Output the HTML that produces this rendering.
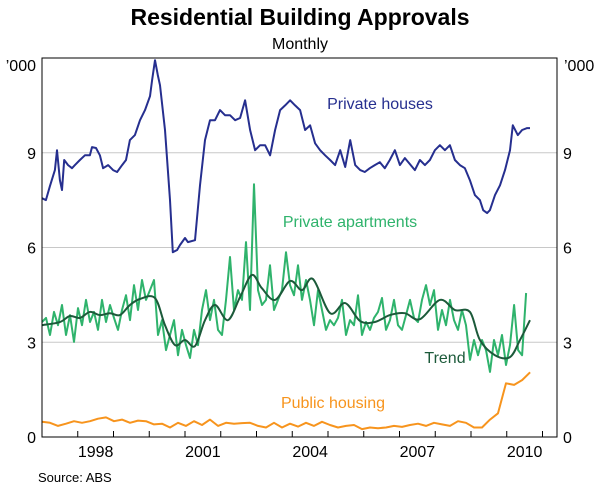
<!DOCTYPE html>
<html><head><meta charset="utf-8"><style>
body{margin:0;background:#fff;}
svg{font-family:"Liberation Sans",Arial,sans-serif;}
</style></head><body>
<svg id="chart" width="600" height="489" viewBox="0 0 600 489">
<text x="300" y="25" text-anchor="middle" font-size="23" font-weight="bold">Residential Building Approvals</text>
<text x="300" y="49" text-anchor="middle" font-size="16">Monthly</text>
<text x="36" y="71" text-anchor="end" font-size="16">’000</text>
<text x="564" y="71" font-size="16">’000</text>
<g id="grid"></g><g id="series"></g><g id="axes"></g>
<text x="380" y="109" text-anchor="middle" font-size="16" fill="#262f8f">Private houses</text>
<text x="350" y="227" text-anchor="middle" font-size="16" fill="#2fb36c">Private apartments</text>
<text x="445" y="363" text-anchor="middle" font-size="16" fill="#1c5a3a">Trend</text>
<text x="333" y="408" text-anchor="middle" font-size="16" fill="#f7941d">Public housing</text>
<text x="38" y="482" font-size="13">Source: ABS</text>
</svg>
<script>
const yTicks=[0,3,6,9];
const xTickLabels=[1998,2001,2004,2007,2010];
const housesT=[0,.11,.22,.36,.42,.5,.56,.62,.73,.84,.92,1.06,1.2,1.34,1.4,1.51,1.62,1.71,1.85,1.99,2.1,2.24,2.35,2.46,2.6,2.74,2.88,3.02,3.08,3.16,3.24,3.3,3.44,3.58,3.66,3.78,3.86,4.0,4.08,4.28,4.42,4.56,4.7,4.84,4.98,5.12,5.26,5.4,5.54,5.68,5.82,5.96,6.1,6.24,6.38,6.52,6.66,6.8,6.94,7.08,7.22,7.36,7.5,7.64,7.78,7.92,8.06,8.2,8.34,8.48,8.62,8.76,8.9,9.03,9.17,9.31,9.45,9.59,9.73,9.87,10.01,10.15,10.29,10.43,10.57,10.71,10.85,10.99,11.13,11.27,11.41,11.55,11.69,11.83,11.97,12.11,12.25,12.34,12.45,12.53,12.67,12.81,12.95,13.09,13.17,13.31,13.43,13.57,13.65];
const housesV=[7.56,7.5,7.94,8.45,9.08,8.13,7.82,8.77,8.61,8.51,8.61,8.77,8.92,8.92,9.18,9.15,8.92,8.51,8.61,8.45,8.39,8.61,8.77,9.4,9.56,10.03,10.35,10.79,11.3,11.93,11.46,11.14,9.72,7.5,5.85,5.92,6.08,6.3,6.17,6.23,7.97,9.4,10.03,10.03,10.35,10.19,10.19,10.03,10.1,10.66,9.72,9.08,9.24,9.24,8.92,9.72,10.35,10.5,10.66,10.5,10.35,9.72,9.87,9.3,9.08,8.92,8.77,8.61,9.08,8.55,9.4,8.61,8.45,8.39,8.51,8.61,8.7,8.51,8.77,9.08,8.61,8.83,8.64,8.45,8.77,8.61,8.77,9.08,9.24,9.08,9.24,8.77,8.61,8.51,8.13,7.66,7.5,7.18,7.09,7.18,7.66,7.97,8.45,9.08,9.87,9.56,9.72,9.78,9.78];
const aptStart=0, aptStep=0.1119;
const apartmentsV=[3.64,3.77,3.23,3.96,3.54,4.18,3.23,3.86,3.01,4.08,3.54,4.34,3.64,3.96,3.39,4.34,3.64,4.18,3.77,3.39,4.02,4.49,3.70,4.81,4.02,4.97,4.34,4.65,4.97,3.23,3.70,2.75,3.23,3.70,2.59,3.39,2.91,2.50,3.39,2.91,4.02,4.65,3.70,4.34,3.39,3.23,4.34,5.70,4.02,4.65,4.34,6.17,4.02,8.0,4.65,4.18,4.34,5.44,4.02,4.34,4.65,5.85,4.81,4.49,5.44,4.34,4.97,4.34,3.54,4.65,4.02,3.39,3.70,3.54,3.77,4.34,3.23,3.70,3.54,4.49,3.23,3.64,3.39,3.77,3.96,4.40,3.39,3.70,4.34,3.54,3.39,3.86,4.34,3.77,3.64,4.34,4.81,4.18,4.65,3.39,4.02,3.54,4.34,3.70,3.39,4.02,3.54,2.44,3.07,2.59,3.07,2.75,2.06,3.07,2.59,3.23,2.28,2.91,4.18,2.75,2.59,4.56];
const trendT=[0,.5,.78,1.06,1.34,1.62,1.9,2.18,2.46,2.74,3.16,3.44,3.72,4.0,4.28,4.56,4.84,5.2,5.54,5.87,6.15,6.52,6.94,7.27,7.58,8.06,8.48,8.9,9.31,9.73,10.15,10.57,11.13,11.55,11.97,12.25,12.67,13.09,13.37,13.65];
const trendV=[3.54,3.64,3.83,3.77,3.96,3.86,3.92,3.86,4.18,4.37,4.40,3.54,2.91,3.07,2.88,3.70,4.18,3.70,4.43,5.13,4.71,4.34,4.94,4.65,5.0,3.92,4.24,3.67,3.64,3.86,3.92,3.73,4.34,4.02,3.96,3.07,2.59,2.53,3.07,3.70];
const pubStart=0, pubStep=0.2238;
const publicV=[0.48,0.45,0.35,0.42,0.5,0.45,0.5,0.58,0.62,0.5,0.55,0.45,0.52,0.5,0.4,0.42,0.3,0.45,0.35,0.5,0.38,0.55,0.35,0.45,0.42,0.44,0.45,0.35,0.3,0.45,0.3,0.42,0.33,0.45,0.35,0.48,0.38,0.3,0.35,0.38,0.25,0.3,0.28,0.3,0.35,0.32,0.38,0.42,0.35,0.45,0.4,0.35,0.5,0.45,0.3,0.3,0.55,0.75,1.7,1.65,1.8,2.05];

const L=42,R=557,T=58,B=437,baseYear=1997,pxYear=35.75;
const x=t=>L+t*pxYear;
const y=v=>B-(v/12)*(B-T);
const NS='http://www.w3.org/2000/svg';
function mk(tag,attrs,parent){const e=document.createElementNS(NS,tag);for(const k in attrs)e.setAttribute(k,attrs[k]);parent.appendChild(e);return e;}
const grid=document.getElementById('grid'),ser=document.getElementById('series'),axes=document.getElementById('axes');
yTicks.forEach(v=>{
  if(v>0){const g=mk('line',{x1:L,x2:R,y1:y(v),y2:y(v),stroke:'#c8c8c8','stroke-width':1},grid);
  
  }
  const a=mk('text',{x:L-6,y:y(v)+6,'text-anchor':'end','font-size':16},axes);a.textContent=v;
  
  
  const b=mk('text',{x:R+6,y:y(v)+6,'font-size':16},axes);b.textContent=v;
  
  
});
for(let yr=1998;yr<=2011;yr++){
  const t=mk('line',{x1:x(yr-baseYear),x2:x(yr-baseYear),y1:B,y2:B-6,stroke:'#000','stroke-width':1},axes);
  
  
}
xTickLabels.forEach(yr=>{
  const e=mk('text',{x:x(yr-baseYear+0.5),y:B+20,'text-anchor':'middle','font-size':16},axes);e.textContent=yr;
  
  
});
const fr=mk('rect',{x:L,y:T,width:R-L,height:B-T,fill:'none',stroke:'#000','stroke-width':1},axes);


function line(ts,vs,color,w,name){
  const d=ts.map((t,i)=>(i?'L':'M')+x(t).toFixed(1)+','+y(vs[i]).toFixed(1)).join('');
  const p=mk('path',{d:d,fill:'none',stroke:color,'stroke-width':w,'stroke-linejoin':'round'},ser);
  
  
}
function smooth(ts,vs,color,w,name){
  const P=ts.map((t,i)=>[x(t),y(vs[i])]);let d='M'+P[0][0]+','+P[0][1];
  for(let i=0;i<P.length-1;i++){const p0=P[Math.max(0,i-1)],p1=P[i],p2=P[i+1],p3=P[Math.min(P.length-1,i+2)];
    d+='C'+(p1[0]+(p2[0]-p0[0])/6)+','+(p1[1]+(p2[1]-p0[1])/6)+' '+(p2[0]-(p3[0]-p1[0])/6)+','+(p2[1]-(p3[1]-p1[1])/6)+' '+p2[0]+','+p2[1];}
  const p=mk('path',{d:d,fill:'none',stroke:color,'stroke-width':w},ser);
  
  
}
line(publicV.map((v,i)=>pubStart+i*pubStep),publicV,'#f7941d',2,'public-housing-line');
line(apartmentsV.map((v,i)=>aptStart+i*aptStep),apartmentsV,'#2fb36c',2,'private-apartments-line');
smooth(trendT,trendV,'#1c5a3a',2,'trend-line');
line(housesT,housesV,'#262f8f',2,'private-houses-line');
</script>
</body></html>
